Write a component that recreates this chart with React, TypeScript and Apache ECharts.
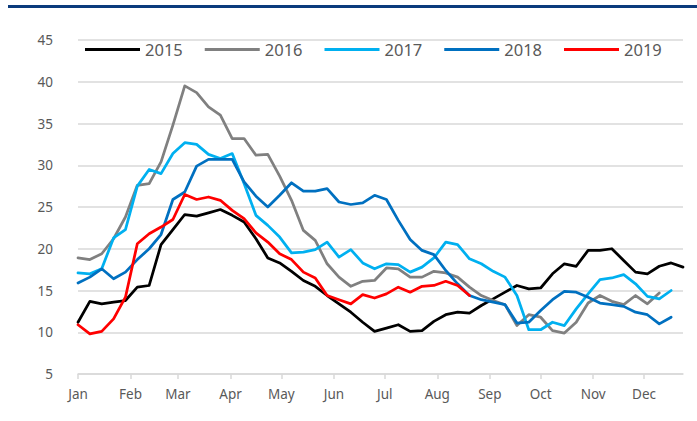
import React, { useEffect, useRef } from "react";
import * as echarts from "echarts";

const MONTHS = ["Jan", "Feb", "Mar", "Apr", "May", "Jun", "Jul", "Aug", "Sep", "Oct", "Nov", "Dec"];
const MONTH_START_DAYS = [0, 31, 59, 90, 120, 151, 181, 212, 243, 273, 304, 334];
const WEEK_DAYS = 7;
const Y_TICKS = [5, 10, 15, 20, 25, 30, 35, 40, 45];

const YEARS = ["2015", "2016", "2017", "2018", "2019"];

const S2015 = [11.2, 13.7, 13.4, 13.6, 13.8, 15.4, 15.6, 20.5, 22.3, 24.1, 23.9, 24.3, 24.7, 24.0, 23.2, 21.2, 18.9, 18.3, 17.3, 16.2, 15.5, 14.4, 13.4, 12.4, 11.2, 10.1, 10.5, 10.9, 10.1, 10.2, 11.3, 12.1, 12.4, 12.3, 13.2, 14.0, 14.8, 15.6, 15.2, 15.3, 17.0, 18.2, 17.9, 19.8, 19.8, 20.0, 18.6, 17.2, 17.0, 17.9, 18.3, 17.8];
const S2016 = [18.9, 18.7, 19.4, 21.2, 23.8, 27.6, 27.8, 30.4, 34.8, 39.5, 38.7, 37.0, 36.0, 33.2, 33.2, 31.2, 31.3, 28.7, 25.8, 22.2, 21.0, 18.2, 16.6, 15.5, 16.1, 16.2, 17.7, 17.6, 16.6, 16.6, 17.3, 17.1, 16.6, 15.4, 14.4, 13.8, 13.3, 10.8, 12.1, 11.8, 10.2, 9.9, 11.2, 13.5, 14.4, 13.7, 13.3, 14.4, 13.4, 14.7];
const S2017 = [17.1, 17.0, 17.6, 21.3, 22.3, 27.5, 29.5, 29.0, 31.4, 32.7, 32.5, 31.3, 30.8, 31.4, 27.8, 24.0, 22.8, 21.4, 19.5, 19.6, 19.9, 20.8, 19.0, 19.9, 18.3, 17.6, 18.2, 18.1, 17.2, 17.8, 18.9, 20.8, 20.5, 18.8, 18.2, 17.3, 16.6, 14.4, 10.3, 10.3, 11.2, 10.8, 12.8, 14.6, 16.3, 16.5, 16.9, 15.8, 14.3, 14.0, 15.0];
const S2018 = [15.9, 16.6, 17.6, 16.4, 17.2, 18.7, 20.0, 21.7, 25.9, 26.8, 29.9, 30.7, 30.7, 30.7, 28.0, 26.3, 25.0, 26.4, 27.9, 26.9, 26.9, 27.2, 25.6, 25.3, 25.5, 26.4, 25.9, 23.4, 21.1, 19.8, 19.3, 17.4, 15.8, 14.4, 13.9, 13.6, 13.3, 11.1, 11.2, 12.6, 13.9, 14.9, 14.8, 14.2, 13.5, 13.3, 13.1, 12.4, 12.1, 11.0, 11.8];
const S2019 = [10.9, 9.8, 10.1, 11.6, 14.2, 20.6, 21.8, 22.6, 23.5, 26.5, 25.9, 26.2, 25.8, 24.6, 23.6, 21.9, 20.8, 19.4, 18.7, 17.2, 16.5, 14.4, 13.9, 13.4, 14.5, 14.1, 14.6, 15.4, 14.8, 15.5, 15.6, 16.1, 15.6, 14.4];

const SERIES_VALUES = [S2015, S2016, S2017, S2018, S2019];
const COLORS = ["#000000", "#808080", "#00b0f0", "#0070c0", "#ff0000"];

const FONT = "'Noto Sans', 'Open Sans', sans-serif";
const LABEL_COLOR = "#595959";
const GRID_COLOR = "#d9d9d9";

export default function App() {
  const ref = useRef<HTMLDivElement>(null);

  useEffect(() => {
    if (!ref.current) return;
    const chart = echarts.init(ref.current, undefined, { renderer: "svg" });
    const lastWeekDay = WEEK_DAYS * (Math.max(...SERIES_VALUES.map((s) => s.length)) - 1);

    chart.setOption({
      animation: false,
      backgroundColor: "#ffffff",
      graphic: [
        {
          type: "rect",
          left: 8,
          top: 5,
          shape: { width: 689, height: 3 },
          style: { fill: "#0b3b7c" },
          silent: true,
        },
      ],
      grid: { left: 78, right: 14, top: 40, bottom: 47, containLabel: false },
      legend: {
        data: YEARS,
        left: 80,
        top: 36,
        icon: "rect",
        itemWidth: 55,
        itemHeight: 3,
        itemGap: 22,
        textStyle: { fontFamily: FONT, fontSize: 16.5, color: LABEL_COLOR },
      },
      xAxis: {
        type: "value",
        min: 0,
        max: lastWeekDay,
        splitLine: { show: false },
        axisLine: { show: true, lineStyle: { color: GRID_COLOR, width: 1.5 } },
        axisTick: {
          show: true,
          customValues: MONTH_START_DAYS,
          length: 5,
          lineStyle: { color: GRID_COLOR, width: 1.5 },
        },
        axisLabel: {
          customValues: MONTH_START_DAYS,
          formatter: (v: number) => {
            const idx = MONTH_START_DAYS.indexOf(Math.round(v));
            return idx >= 0 ? MONTHS[idx] : "";
          },
          margin: 13,
          fontFamily: FONT,
          fontSize: 13.5,
          color: LABEL_COLOR,
        },
      },
      yAxis: {
        type: "value",
        min: Y_TICKS[0],
        max: Y_TICKS[Y_TICKS.length - 1],
        interval: 5,
        axisLine: { show: false },
        axisTick: { show: false },
        splitLine: { show: true, lineStyle: { color: GRID_COLOR, width: 1.5 } },
        axisLabel: {
          margin: 25,
          fontFamily: FONT,
          fontSize: 13.5,
          color: LABEL_COLOR,
        },
      },
      series: YEARS.map((name, k) => ({
        name,
        type: "line",
        symbol: "none",
        showSymbol: false,
        color: COLORS[k],
        lineStyle: { color: COLORS[k], width: 2.75, cap: "round", join: "round" },
        data: SERIES_VALUES[k].map((v, i) => [i * WEEK_DAYS, v]),
        z: 2 + k,
      })),
    });

    return () => chart.dispose();
  }, []);

  return (
    <div
      ref={ref}
      style={{ position: "fixed", left: 0, top: 0, width: 697, height: 421 }}
    />
  );
}
